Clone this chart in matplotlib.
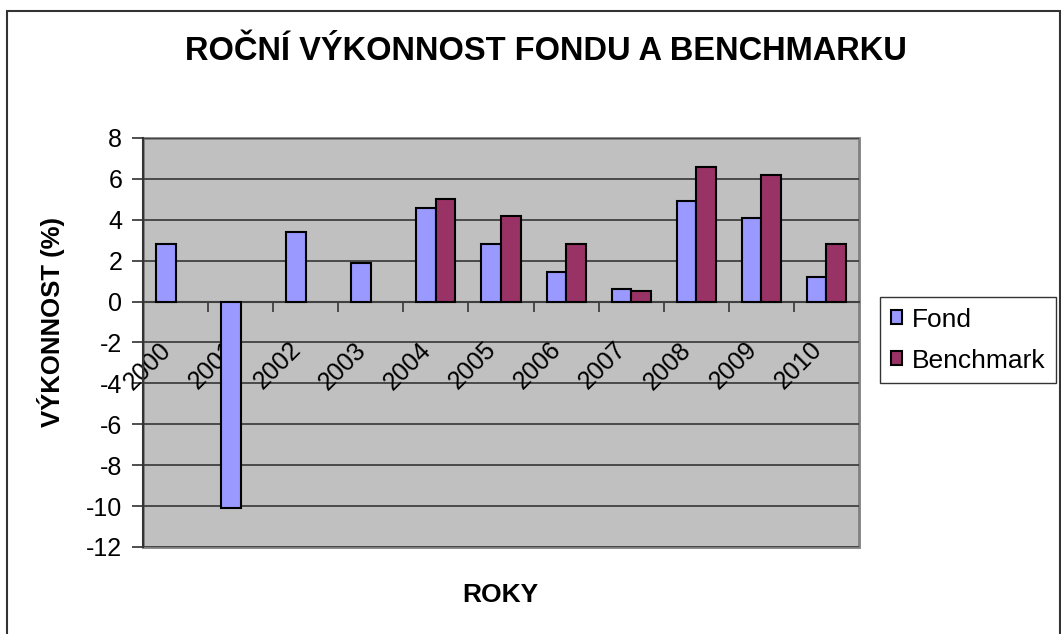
import numpy as np
import matplotlib
matplotlib.use("Agg")
import matplotlib.pyplot as plt
from matplotlib.patches import Rectangle
from matplotlib.transforms import ScaledTranslation
from matplotlib.ticker import FixedLocator

plt.rcParams['font.family'] = ['Liberation Sans', 'DejaVu Sans']

years = ["2000", "2001", "2002", "2003", "2004", "2005", "2006", "2007", "2008", "2009", "2010"]
fond = [2.8, -10.1, 3.4, 1.9, 4.6, 2.8, 1.45, 0.6, 4.9, 4.1, 1.2]
benchmark = [np.nan, np.nan, np.nan, np.nan, 5.0, 4.2, 2.8, 0.5, 6.6, 6.2, 2.8]
y_ticks = [8, 6, 4, 2, 0, -2, -4, -6, -8, -10, -12]

title = "ROČNÍ VÝKONNOST FONDU A BENCHMARKU"
ylabel = "VÝKONNOST (%)"
xlabel = "ROKY"

W, H = 1061, 634
fig = plt.figure(figsize=(W / 100, H / 100), dpi=100)
fig.patch.set_facecolor("white")

# outer chart border
fig.patches.append(Rectangle((7 / W, -0.01), (1060 - 7) / W, 1 - 11 / H + 0.01,
                             transform=fig.transFigure, fill=False,
                             edgecolor="#333333", linewidth=1.5))

ax = fig.add_axes([143 / W, 1 - 547 / H, 716 / W, 409 / H])
ax.set_facecolor("#C0C0C0")

x = np.arange(len(years))
bw = 0.3
ax.bar(x - bw / 2, fond, width=bw, color="#9999FF", edgecolor="black",
       linewidth=1.5, label="Fond", zorder=3)
ax.bar(x + bw / 2, benchmark, width=bw, color="#993366", edgecolor="black",
       linewidth=1.5, label="Benchmark", zorder=3)

ax.set_xlim(-0.5, len(years) - 0.5)
ax.set_ylim(min(y_ticks), max(y_ticks))
ax.set_yticks(y_ticks)
ax.set_yticklabels([str(v) for v in y_ticks], fontsize=18)
ax.yaxis.grid(True, color="#404040", linewidth=1.3, zorder=1)
ax.set_axisbelow(True)
ax.tick_params(axis="y", direction="out", length=8, width=1.3, color="#404040", pad=7)

# category axis at 0
ax.spines["bottom"].set_position(("data", 0))
ax.spines["bottom"].set_color("#404040")
ax.spines["bottom"].set_linewidth(1.5)
ax.spines["bottom"].set_zorder(2)
ax.spines["left"].set_color("#333333")
ax.spines["left"].set_linewidth(1.5)
ax.spines["top"].set_visible(False)
ax.spines["right"].set_visible(False)
ax.add_patch(Rectangle((0, 0), 1, 1, transform=ax.transAxes, fill=False,
                       edgecolor="#808080", linewidth=2, clip_on=False, zorder=0.5))

ax.set_xticks([])
ax.xaxis.set_minor_locator(FixedLocator(np.arange(0.5, len(years) - 0.5, 1.0)))
ax.tick_params(axis="x", which="minor", direction="out", length=7, width=1.3,
               color="#404040")

# rotated year labels hanging below the zero axis
offset = ScaledTranslation(-17 / 100, -36 / 100, fig.dpi_scale_trans)
for xi, lab in zip(x, years):
    ax.text(xi, 0, lab, transform=ax.transData + offset, rotation=45,
            rotation_mode="anchor", ha="right", va="top", fontsize=18,
            clip_on=False, zorder=2.5)

fig.text(546 / W, 1 - 52 / H, title, ha="center", va="center",
         fontsize=23.5, fontweight="bold")
fig.text(51 / W, 1 - 322 / H, ylabel, ha="center", va="center", rotation=90,
         fontsize=18.5, fontweight="bold")
fig.text(500 / W, 1 - 595 / H, xlabel, ha="center", va="center",
         fontsize=19, fontweight="bold")

leg = fig.legend(loc="upper left", bbox_to_anchor=(880 / W, 1 - 297 / H),
                 frameon=True, fontsize=19, handlelength=0.45, handleheight=0.45,
                 handletextpad=0.35, borderpad=0.4, labelspacing=0.65,
                 fancybox=False, borderaxespad=0)
leg.get_frame().set_edgecolor("black")
leg.get_frame().set_linewidth(1)

fig.savefig("out.png", dpi=100)
